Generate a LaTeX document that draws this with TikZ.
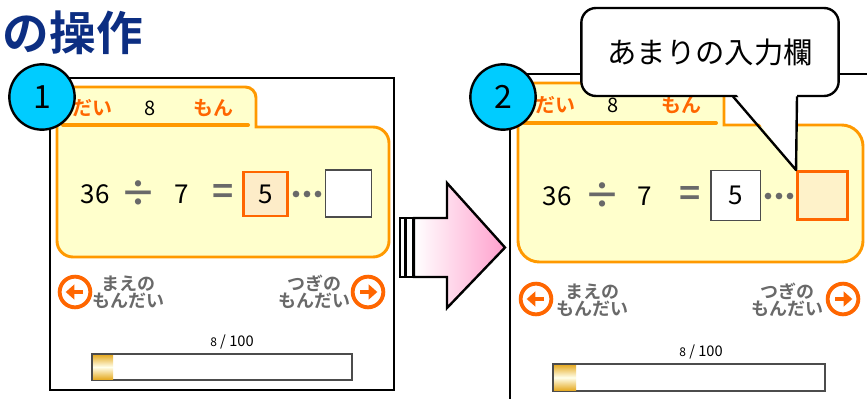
\documentclass[tikz,border=0pt]{standalone}
\usepackage{fontspec}
\newfontfamily\jpfont{Noto Sans CJK JP}[BoldFont={Noto Sans CJK JP Bold}]
\usetikzlibrary{arrows.meta}

\definecolor{paneledge}{RGB}{255,153,0}
\definecolor{panelfill}{RGB}{255,255,204}
\definecolor{boxedge}{RGB}{255,102,0}
\definecolor{boxfill}{RGB}{253,236,200}
\definecolor{navgray}{RGB}{105,105,105}
\definecolor{titlenavy}{RGB}{12,46,130}
\definecolor{badgecyan}{RGB}{0,204,255}
\definecolor{arrowpink}{RGB}{255,160,205}
\definecolor{bargold}{RGB}{230,172,40}

\begin{document}
\begin{tikzpicture}[x=0.75pt,y=-0.75pt,font=\jpfont,
  frame/.style={draw=black,line width=0.8pt},
  badge/.style={circle,draw=black,line width=1.8pt,fill=badgecyan,minimum size=49pt,
    inner sep=0pt,font=\jpfont\fontsize{24}{24}\selectfont},
  tabtext/.style={font=\jpfont\bfseries\fontsize{15}{15}\selectfont,text=boxedge},
  tabnum/.style={font=\jpfont\fontsize{15}{15}\selectfont},
  eqtext/.style={font=\jpfont\fontsize{19.5}{19.5}\selectfont},
  eqsign/.style={font=\jpfont\bfseries\fontsize{27}{27}\selectfont,text=navgray},
  ansbox/.style={draw=boxedge,line width=2.2pt,fill=boxfill,minimum width=33pt,minimum height=33pt,
    inner sep=0pt,font=\jpfont\fontsize{19.5}{19.5}\selectfont},
  emptybox/.style={draw=black!70,line width=1pt,fill=white,minimum width=34.5pt,minimum height=35pt,
    inner sep=0pt,font=\jpfont\fontsize{19.5}{19.5}\selectfont},
  dot/.style={circle,fill=navgray,minimum size=5pt,inner sep=0pt},
  navcircle/.style={circle,draw=boxedge,line width=2.9pt,minimum size=23pt,inner sep=0pt},
  navarrow/.style={draw=boxedge,line width=3.2pt,-{Triangle[length=6.5pt,width=11pt]}},
  navtext/.style={align=center,text=navgray,font=\jpfont\bfseries\fontsize{13.5}{12.5}\selectfont},
  count/.style={font=\jpfont\fontsize{11}{11}\selectfont},
  bar/.style={draw=black!70,line width=1pt,fill=white},
  callout/.style={draw=black,line width=1.8pt,fill=white,rounded corners=11pt,minimum width=193pt,
    minimum height=66pt,font=\jpfont\fontsize{22}{22}\selectfont}]

  \useasboundingbox (0,0) rectangle (867,399);

  % title
  \node[anchor=west,font=\jpfont\bfseries\fontsize{35}{35}\selectfont,text=titlenavy]
    (title) at (-2,33) {の操作};

  % panel 1
  \draw[frame] (50,78) rectangle (394,390);
  \draw[draw=paneledge,line width=2.2pt,fill=panelfill,rounded corners=8pt]
    (57,257) -- (57,87) -- (256,87) -- (256,127) [sharp corners] -- (256,127) [rounded corners=12pt]
    -- (389,127) -- (389,257) -- cycle;
  \draw[draw=paneledge,line width=3pt,line cap=round] (63,125) -- (248,125);
  \node[tabtext] (tab1a) at (92,108) {だい};
  \node[tabnum]  (tab1n) at (150,108) {8};
  \node[tabtext] (tab1b) at (213,108) {もん};

  \node[eqtext]  (a1) at (95,194) {36};
  \node[eqsign]  (d1) at (138,194) {÷};
  \node[eqtext]  (b1) at (182,194) {7};
  \node[eqsign]  (e1) at (223,194) {=};
  \node[ansbox]  (q1) at (265.5,194) {5};
  \node[dot]     (p1a) at (296,194) {};
  \node[dot]     (p1b) at (307,194) {};
  \node[dot]     (p1c) at (318,194) {};
  \node[emptybox] (r1) at (348.5,193.5) {};

  \node[navcircle] (prev1) at (75,292) {};
  \draw[navarrow] ([xshift=6pt]prev1.center) -- ([xshift=-7pt]prev1.center);
  \node[navtext] (prevtext1) at (128,292) {まえの\\もんだい};
  \node[navcircle] (next1) at (368,292) {};
  \draw[navarrow] ([xshift=-6pt]next1.center) -- ([xshift=7pt]next1.center);
  \node[navtext] (nexttext1) at (314,292) {つぎの\\もんだい};

  \node[count] (count1) at (232,342) {{\fontsize{9}{9}\selectfont 8} / 100};
  \draw[bar] (92,354) rectangle (352,380);
  \shade[top color=bargold,bottom color=bargold,middle color=yellow!8] (93,355) rectangle (113,379);

  \node[badge] (one) at (42,97) {1};

  % big arrow
  \draw[line width=1.2pt,fill=white] (400,218) rectangle (405,277);
  \draw[line width=1.2pt,fill=white] (406.5,218) rectangle (413,277);
  \shadedraw[left color=white,right color=arrowpink,draw=black,line width=1.8pt]
    (414,218) -- (447,218) -- (447,183) -- (505,247.5) -- (447,308) -- (447,277) -- (414,277) -- cycle;

  % panel 2
  \draw[frame] (510,405) -- (510,74) -- (870,74);
  \draw[draw=paneledge,line width=2.2pt,fill=panelfill,rounded corners=8pt]
    (518,262) -- (518,83) -- (724,83) -- (724,125) [sharp corners] -- (724,125) [rounded corners=16pt]
    -- (863,125) -- (863,262) -- cycle;
  \draw[draw=paneledge,line width=3pt,line cap=round] (524,123) -- (716,123);
  \node[tabtext] (tab2a) at (555,105) {だい};
  \node[tabnum]  (tab2n) at (613,105) {8};
  \node[tabtext] (tab2b) at (681,105) {もん};

  \node[eqtext]  (a2) at (557,196) {36};
  \node[eqsign]  (d2) at (602,196) {÷};
  \node[eqtext]  (b2) at (645,196) {7};
  \node[eqsign]  (e2) at (690,196) {=};
  \node[emptybox,minimum width=37pt,minimum height=37pt] (q2) at (735.5,195.5) {5};
  \node[dot]     (p2a) at (768,196) {};
  \node[dot]     (p2b) at (779,196) {};
  \node[dot]     (p2c) at (790,196) {};
  \node[ansbox,minimum width=37.5pt,minimum height=36pt,fill=boxfill!70!panelfill] (r2) at (822.5,195.5) {};

  \node[navcircle] (prev2) at (536,299) {};
  \draw[navarrow] ([xshift=6pt]prev2.center) -- ([xshift=-7pt]prev2.center);
  \node[navtext] (prevtext2) at (592,300) {まえの\\もんだい};
  \node[navcircle] (next2) at (843,299) {};
  \draw[navarrow] ([xshift=-6pt]next2.center) -- ([xshift=7pt]next2.center);
  \node[navtext] (nexttext2) at (787,300) {つぎの\\もんだい};

  \node[count] (count2) at (701,352) {{\fontsize{9}{9}\selectfont 8} / 100};
  \draw[bar] (553,364) rectangle (825,391);
  \shade[top color=bargold,bottom color=bargold,middle color=yellow!8] (554,365) rectangle (576,390);

  \node[badge] (two) at (503,97) {2};

  % callout
  \node[callout] (label) at (710,52) {あまりの入力欄};
  \coordinate (tip) at (r2.north west);
  \fill[white] (733,90) -- (tip) -- (797,90) -- cycle;
  \draw[line width=1.8pt,line join=round] (733,96.5) -- (tip) -- (797,96.5);

\end{tikzpicture}
\end{document}
